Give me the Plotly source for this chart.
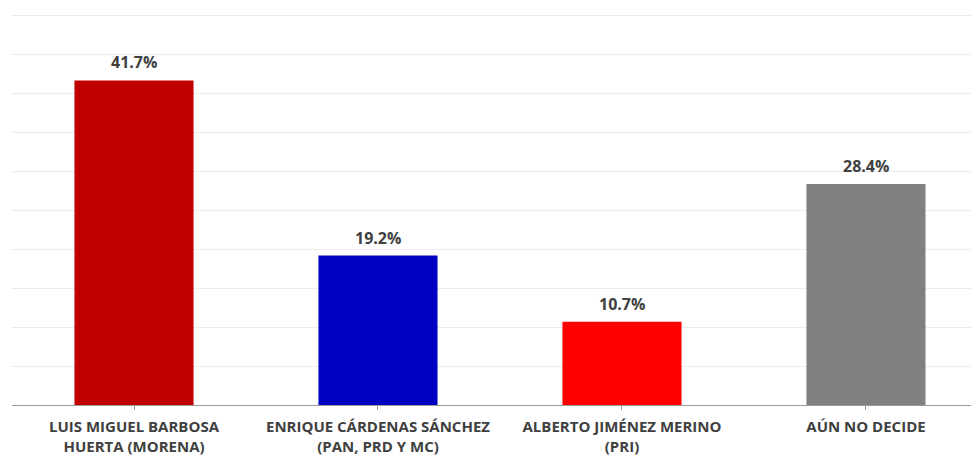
import plotly.graph_objects as go

categories = ["LUIS MIGUEL BARBOSA<br>HUERTA (MORENA)",
              "ENRIQUE CÁRDENAS SÁNCHEZ<br>(PAN, PRD Y MC)",
              "ALBERTO JIMÉNEZ MERINO<br>(PRI)",
              "AÚN NO DECIDE"]
values = [41.7, 19.2, 10.7, 28.4]
labels = ["41.7%", "19.2%", "10.7%", "28.4%"]
colors = ["#c00000", "#0000c0", "#ff0000", "#808080"]

xs = list(range(len(categories)))
fig = go.Figure(go.Bar(
    x=xs, y=values,
    marker=dict(color=colors, line=dict(width=0)),
    width=0.488,
))

for x, v, t in zip(xs, values, labels):
    fig.add_annotation(x=x, y=v, text=t, showarrow=False, yanchor="bottom",
                       yshift=5,
                       font=dict(family="Open Sans", size=16, color="#404040", weight="bold"))

fig.update_layout(
    width=979, height=460,
    margin=dict(l=4, r=0, t=4, b=63),
    plot_bgcolor="white", paper_bgcolor="white",
    showlegend=False,
    xaxis=dict(
        range=[-0.5, 3.496], automargin=False,
        tickmode="array", tickvals=xs, ticktext=categories,
        ticks="outside", tickson="boundaries", ticklen=4, tickcolor="#9a9a9a",
        ticklabelstandoff=4,
        showline=True, linecolor="#9a9a9a", linewidth=1,
        tickfont=dict(family="Open Sans", size=15, color="#404040", weight="bold"),
        showgrid=False,
    ),
    yaxis=dict(
        range=[0, 50.5], tickvals=[5, 10, 15, 20, 25, 30, 35, 40, 45, 50],
        showticklabels=False, automargin=False,
        showgrid=True, gridcolor="#ebebeb", gridwidth=1,
        zeroline=False,
    ),
)

fig.write_html("out.html")
